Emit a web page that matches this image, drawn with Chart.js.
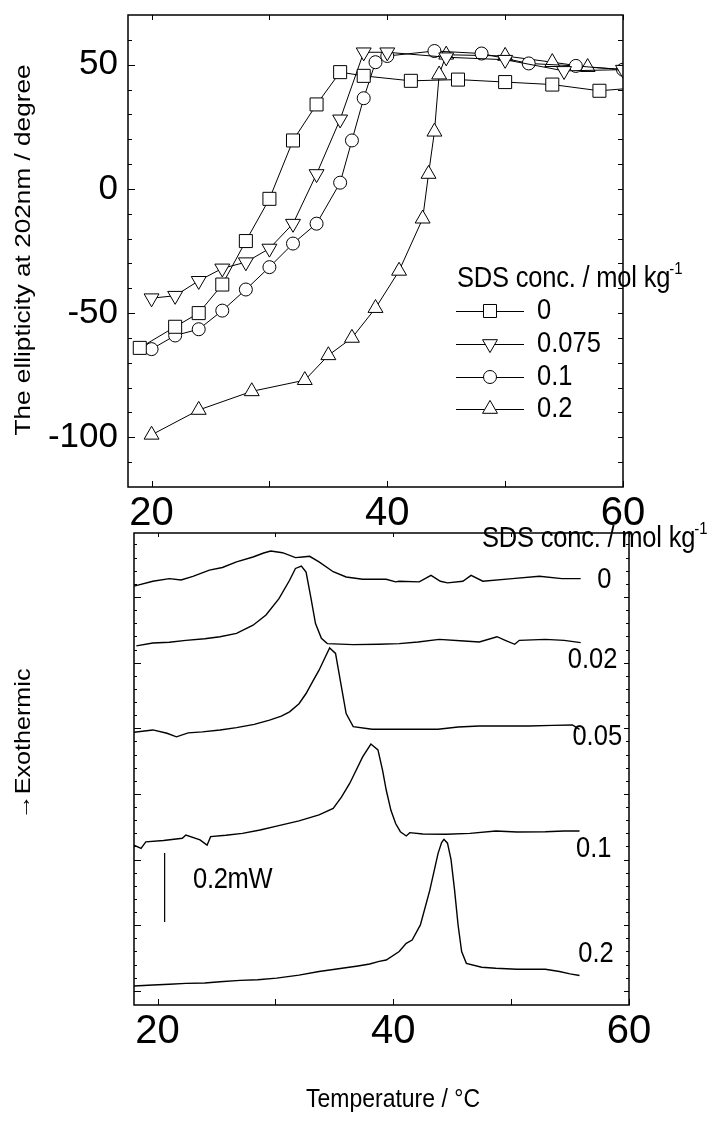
<!DOCTYPE html>
<html>
<head>
<meta charset="utf-8">
<script src="https://cdn.jsdelivr.net/npm/chart.js@4/dist/chart.umd.min.js"></script>
<style>
  html, body { margin: 0; padding: 0; background: #fff; }
  #wrap { position: relative; width: 710px; height: 1135px; }
  #wrap canvas { position: absolute; left: 0; top: 0; }
</style>
</head>
<body>
<div id="wrap">
  <canvas id="cdChart" width="710" height="1135"></canvas>
  <canvas id="dscChart" width="710" height="1135"></canvas>
</div>
<script>
const FONT = "'Liberation Sans', Arial, Helvetica, sans-serif";

// ---- top panel: ellipticity at 202 nm (degree) vs temperature
const cdTemp0 = [19, 22, 24, 26, 28, 30, 32, 34, 36, 38, 42, 46, 50, 54, 58, 62];
const cdEllip0 = [-64, -55.5, -50, -38.5, -21, -4, 19.5, 34, 47, 45.5, 43.5, 44, 43, 42, 39.5, 41];
const cdTemp0075 = [20, 22, 24, 26, 28, 30, 32, 34, 36, 38, 40, 45, 50, 55, 60];
const cdEllip0075 = [-44, -43, -37, -32, -29.5, -24, -14, 6, 28, 55, 55, 53, 52, 47.5, 48];
const cdTemp01 = [20, 22, 24, 26, 28, 30, 32, 34, 36, 37, 38, 39, 40, 44, 48, 52, 56, 60];
const cdEllip01 = [-64.5, -59, -56.5, -49, -40.5, -31.5, -22, -14, 2.5, 19.5, 36.5, 51, 53.5, 55.5, 54.5, 50.5, 49.5, 48];
const cdTemp02 = [20, 24, 28.5, 33, 35, 37, 39, 41, 43, 43.5, 44, 44.4, 45, 50, 54, 57, 62];
const cdEllip02 = [-99, -89, -81.5, -77, -67, -60, -48, -33, -12, 6, 23, 46, 54, 53.5, 51, 49, 47.5];
const cdSeriesLabels = ['0', '0.075', '0.1', '0.2'];
const cdXLabelTicks = [20, 40, 60];
const cdXMarks = [20, 30, 40, 50, 60];
const cdYLabelTicks = [-100, -50, 0, 50];
const cdYMinor = [-110, -90, -80, -70, -60, -40, -30, -20, -10, 10, 20, 30, 40, 60];

// ---- bottom panel: DSC traces (mW, offset), temperature in degC
const dscTemp0 = [18.0, 19.6, 21.0, 22.0, 23.0, 24.4, 25.5, 26.7, 28.1, 29.0, 29.6, 30.6, 31.7, 32.3, 32.9, 33.7, 34.9, 36.0, 37.4, 38.8, 39.4, 40.2, 40.5, 42.2, 43.2, 44.0, 44.6, 45.9, 46.6, 47.6, 50.1, 52.4, 54.3, 55.9];
const dscPow0 = [1.233, 1.248, 1.256, 1.252, 1.263, 1.282, 1.290, 1.307, 1.322, 1.334, 1.340, 1.335, 1.320, 1.322, 1.324, 1.307, 1.277, 1.261, 1.254, 1.254, 1.254, 1.246, 1.248, 1.246, 1.266, 1.248, 1.243, 1.248, 1.266, 1.248, 1.256, 1.263, 1.256, 1.256];
const dscTemp002 = [18.2, 19.6, 21.0, 22.4, 24.0, 25.3, 26.7, 28.1, 29.2, 30.3, 31.2, 31.7, 32.2, 32.6, 33.0, 33.4, 33.9, 34.4, 36.6, 38.8, 40.5, 42.1, 43.9, 46.0, 47.3, 48.8, 49.5, 50.3, 50.7, 52.9, 54.5, 55.9];
const dscPow002 = [1.051, 1.060, 1.062, 1.068, 1.073, 1.079, 1.089, 1.114, 1.145, 1.195, 1.251, 1.287, 1.294, 1.276, 1.200, 1.119, 1.074, 1.058, 1.055, 1.056, 1.058, 1.063, 1.071, 1.066, 1.063, 1.079, 1.068, 1.056, 1.068, 1.071, 1.068, 1.061];
const dscTemp005 = [18.0, 19.6, 20.8, 21.6, 22.6, 23.8, 25.3, 26.7, 28.2, 29.5, 30.5, 31.2, 32.0, 32.6, 33.2, 33.7, 34.2, 34.6, 35.1, 35.6, 36.0, 36.6, 38.2, 40.8, 43.8, 45.5, 47.3, 49.5, 51.5, 53.5, 55.2, 55.8];
const dscPow005 = [0.788, 0.795, 0.785, 0.774, 0.786, 0.789, 0.795, 0.802, 0.812, 0.825, 0.837, 0.850, 0.875, 0.906, 0.945, 0.977, 1.015, 1.045, 1.028, 0.926, 0.845, 0.805, 0.797, 0.797, 0.797, 0.804, 0.807, 0.807, 0.807, 0.809, 0.810, 0.797];
const dscTemp01 = [18.0, 18.6, 19.0, 20.5, 22.1, 22.4, 23.6, 24.2, 24.5, 25.8, 27.2, 28.7, 30.1, 32.0, 33.7, 34.9, 35.6, 36.3, 37.4, 38.1, 38.7, 39.1, 39.4, 39.8, 40.2, 40.6, 41.1, 41.4, 42.5, 44.5, 46.5, 48.7, 50.5, 52.9, 54.5, 55.8];
const dscPow01 = [0.444, 0.434, 0.454, 0.458, 0.465, 0.475, 0.460, 0.444, 0.470, 0.474, 0.480, 0.490, 0.502, 0.518, 0.536, 0.556, 0.590, 0.632, 0.713, 0.752, 0.734, 0.670, 0.612, 0.550, 0.510, 0.485, 0.472, 0.482, 0.478, 0.477, 0.480, 0.487, 0.484, 0.485, 0.487, 0.487];
const dscTemp02 = [18.0, 19.6, 21.0, 22.4, 24.0, 25.3, 27.0, 28.5, 30.1, 32.0, 33.7, 35.5, 37.0, 38.0, 38.8, 39.4, 40.5, 41.1, 41.6, 42.3, 43.1, 43.8, 44.1, 44.3, 44.6, 44.9, 45.2, 45.5, 45.8, 46.2, 47.5, 48.7, 50.5, 52.9, 54.1, 55.0, 55.8];
const dscPow02 = [0.015, 0.018, 0.020, 0.023, 0.024, 0.028, 0.032, 0.034, 0.039, 0.048, 0.059, 0.068, 0.076, 0.082, 0.090, 0.094, 0.120, 0.145, 0.155, 0.201, 0.307, 0.419, 0.452, 0.462, 0.450, 0.400, 0.307, 0.200, 0.120, 0.084, 0.072, 0.069, 0.066, 0.066, 0.059, 0.052, 0.047];
const dscSeriesLabels = ['0', '0.02', '0.05', '0.1', '0.2'];
const scaleBarTemp = [20.6, 20.6];
const scaleBarPow = [0.21, 0.42];
const dscXLabelTicks = [20, 40, 60];
const dscXMarks = [20, 30, 40, 50, 60];
const dscYMajor = [0, 0.2, 0.4, 0.6, 0.8, 1.0, 1.2];
const dscYMinor = [];
for (let i = 1; i < 35; i++) { if (i % 5 !== 0) dscYMinor.push(i * 0.04); }

function xy(xs, ys) {
    return xs.map((x, i) => ({ x: x, y: ys[i] }));
}

function drawText(ctx, text, x, y, size, opts) {
    opts = opts || {};
    ctx.save();
    ctx.translate(x, y);
    ctx.scale(1, opts.stretch || 1.12);
    if (opts.rotate) ctx.rotate(opts.rotate);
    ctx.font = size + 'px ' + FONT;
    ctx.fillStyle = '#000';
    ctx.textAlign = opts.align || 'left';
    ctx.textBaseline = 'middle';
    if (opts.spacing) ctx.letterSpacing = opts.spacing + 'px';
    ctx.fillText(text, 0, 0);
    const w = ctx.measureText(text).width;
    ctx.restore();
    return w;
}

// box + inward tick marks, mirrored on all four sides
const framePlugin = {
    id: 'frame',
    afterDatasetsDraw(chart, args, o) {
        const { ctx, chartArea: a, scales: { x, y } } = chart;
        ctx.save();
        ctx.strokeStyle = '#000';
        ctx.lineWidth = 1;
        ctx.beginPath();
        o.xMarks.forEach(v => {
            const p = Math.round(x.getPixelForValue(v)) + 0.5;
            ctx.moveTo(p, a.bottom); ctx.lineTo(p, a.bottom - o.xLen);
            ctx.moveTo(p, a.top); ctx.lineTo(p, a.top + o.xTopLen);
        });
        o.yMajor.forEach(v => {
            const p = Math.round(y.getPixelForValue(v)) + 0.5;
            ctx.moveTo(a.left, p); ctx.lineTo(a.left + o.majorLen, p);
            ctx.moveTo(a.right, p); ctx.lineTo(a.right - o.rightLen, p);
        });
        o.yMinor.forEach(v => {
            const p = Math.round(y.getPixelForValue(v)) + 0.5;
            ctx.moveTo(a.left, p); ctx.lineTo(a.left + o.minorLen, p);
            ctx.moveTo(a.right, p); ctx.lineTo(a.right - o.rightMinorLen, p);
        });
        ctx.stroke();
        ctx.lineWidth = 1.5;
        ctx.strokeRect(a.left, a.top, a.right - a.left, a.bottom - a.top);
        ctx.restore();
    }
};

// legend of the CD panel, built from the datasets' own styles
const cdLegendPlugin = {
    id: 'cdLegend',
    afterDraw(chart, args, o) {
        const ctx = chart.ctx;
        const w = drawText(ctx, 'SDS conc. / mol kg', o.titleX, o.titleY, 25.5, { spacing: -0.2 });
        drawText(ctx, '-1', o.titleX + w - 1, o.titleY - 10, 15);
        chart.data.datasets.forEach((ds, i) => {
            const yy = o.rows[i];
            ctx.save();
            ctx.strokeStyle = '#000';
            ctx.lineWidth = 1;
            ctx.beginPath();
            ctx.moveTo(o.lineStart, yy + 0.5);
            ctx.lineTo(o.lineEnd, yy + 0.5);
            ctx.stroke();
            ctx.fillStyle = '#fff';
            Chart.helpers.drawPoint(ctx, {
                pointStyle: ds.pointStyle, radius: ds.pointRadius,
                rotation: ds.pointRotation || 0, borderWidth: 1
            }, (o.lineStart + o.lineEnd) / 2, yy);
            ctx.restore();
            drawText(ctx, ds.label, o.textX, yy, 25.5);
        });
        drawText(ctx, 'The ellipticity at 202nm / degree', o.yTitleX, o.yTitleY, 22,
            { rotate: -Math.PI / 2, align: 'center', stretch: 1.19 });
    }
};

const dscNotesPlugin = {
    id: 'dscNotes',
    afterDraw(chart, args, o) {
        const ctx = chart.ctx;
        const { x, y } = chart.scales;
        chart.data.datasets.forEach((ds, i) => {
            const pos = o.labelAt[i];
            if (!pos) return;
            drawText(ctx, ds.label, x.getPixelForValue(pos[0]), y.getPixelForValue(pos[1]), 25.5);
        });
        const w = drawText(ctx, 'SDS conc. / mol kg', o.titleX, o.titleY, 25.5, { spacing: -0.2 });
        drawText(ctx, '-1', o.titleX + w - 1, o.titleY - 10, 15);
        drawText(ctx, '0.2mW', o.barTextX, o.barTextY, 25.5, { spacing: -0.3 });
        drawText(ctx, '\u2192Exothermic', o.yTitleX, o.yTitleY, 21.5,
            { rotate: -Math.PI / 2, align: 'center', stretch: 1.17 });
        drawText(ctx, 'Temperature / \u00B0C', o.xTitleX, o.xTitleY, 23, { align: 'center' });
    }
};

function pointSet(label, data, style, radius, rotation) {
    return {
        label: label, data: data, showLine: true,
        borderColor: '#000', borderWidth: 1,
        pointStyle: style, pointRadius: radius, pointRotation: rotation || 0,
        pointBackgroundColor: '#fff', pointBorderColor: '#000', pointBorderWidth: 1,
        pointHoverRadius: radius
    };
}

function traceSet(label, data) {
    return {
        label: label, data: data, borderColor: '#000', borderWidth: 1.4,
        pointRadius: 0, pointHoverRadius: 0, tension: 0
    };
}

new Chart(document.getElementById('cdChart'), {
    type: 'line',
    data: {
        datasets: [
            pointSet(cdSeriesLabels[0], xy(cdTemp0, cdEllip0), 'rect', 9.2),
            pointSet(cdSeriesLabels[1], xy(cdTemp0075, cdEllip0075), 'triangle', 8.6, 180),
            pointSet(cdSeriesLabels[2], xy(cdTemp01, cdEllip01), 'circle', 6.5),
            pointSet(cdSeriesLabels[3], xy(cdTemp02, cdEllip02), 'triangle', 8.6)
        ]
    },
    options: {
        responsive: false, animation: false, devicePixelRatio: 1,
        layout: { padding: { left: 0, top: 15, right: 87, bottom: 590 } },
        plugins: {
            legend: { display: false }, tooltip: { enabled: false },
            frame: { xMarks: cdXMarks, yMajor: cdYLabelTicks, yMinor: cdYMinor,
                     xLen: 6, xTopLen: 5, majorLen: 7, minorLen: 4, rightLen: 5, rightMinorLen: 5 },
            cdLegend: { titleX: 457, titleY: 279, rows: [311, 344, 377, 409],
                        lineStart: 456, lineEnd: 524, textX: 537, yTitleX: 24, yTitleY: 250 }
        },
        scales: {
            x: {
                type: 'linear', min: 18, max: 60,
                grid: { display: false }, border: { display: false },
                afterBuildTicks: s => { s.ticks = cdXLabelTicks.map(v => ({ value: v })); },
                afterFit: s => { s.height = 58; s.paddingLeft = 0; s.paddingRight = 0; },
                ticks: { color: '#000', font: { family: FONT, size: 40 }, padding: -5, maxRotation: 0, autoSkip: false }
            },
            y: {
                type: 'linear', min: -120, max: 70,
                grid: { display: false }, border: { display: false },
                afterBuildTicks: s => { s.ticks = cdYLabelTicks.map(v => ({ value: v })); },
                afterFit: s => { s.width = 128; s.paddingTop = 0; s.paddingBottom = 0; },
                ticks: { color: '#000', font: { family: FONT, size: 35 }, padding: 2, autoSkip: false }
            }
        }
    },
    plugins: [framePlugin, cdLegendPlugin]
});

new Chart(document.getElementById('dscChart'), {
    type: 'line',
    data: {
        datasets: [
            traceSet(dscSeriesLabels[0], xy(dscTemp0, dscPow0)),
            traceSet(dscSeriesLabels[1], xy(dscTemp002, dscPow002)),
            traceSet(dscSeriesLabels[2], xy(dscTemp005, dscPow005)),
            traceSet(dscSeriesLabels[3], xy(dscTemp01, dscPow01)),
            traceSet(dscSeriesLabels[4], xy(dscTemp02, dscPow02)),
            Object.assign(traceSet('', xy(scaleBarTemp, scaleBarPow)), { borderWidth: 1.2 })
        ]
    },
    options: {
        responsive: false, animation: false, devicePixelRatio: 1,
        layout: { padding: { left: 0, top: 533, right: 81, bottom: 70 } },
        plugins: {
            legend: { display: false }, tooltip: { enabled: false },
            frame: { xMarks: dscXMarks, yMajor: dscYMajor, yMinor: dscYMinor,
                     xLen: 6, xTopLen: 4, majorLen: 7, minorLen: 3, rightLen: 5, rightMinorLen: 3 },
            dscNotes: {
                labelAt: [[57.3, 1.251], [54.8, 1.008], [55.2, 0.773], [55.5, 0.432], [55.7, 0.113]],
                titleX: 482, titleY: 539, barTextX: 193, barTextY: 880,
                yTitleX: 24, yTitleY: 744, xTitleX: 393, xTitleY: 1100
            }
        },
        scales: {
            x: {
                type: 'linear', min: 18, max: 60,
                grid: { display: false }, border: { display: false },
                afterBuildTicks: s => { s.ticks = dscXLabelTicks.map(v => ({ value: v })); },
                afterFit: s => { s.height = 60; s.paddingLeft = 0; s.paddingRight = 0; },
                ticks: { color: '#000', font: { family: FONT, size: 40 }, padding: -5, maxRotation: 0, autoSkip: false }
            },
            y: {
                type: 'linear', min: -0.043, max: 1.395,
                grid: { display: false }, border: { display: false },
                ticks: { display: false },
                afterFit: s => { s.width = 134; s.paddingTop = 0; s.paddingBottom = 0; }
            }
        }
    },
    plugins: [framePlugin, dscNotesPlugin]
});
</script>
</body>
</html>
